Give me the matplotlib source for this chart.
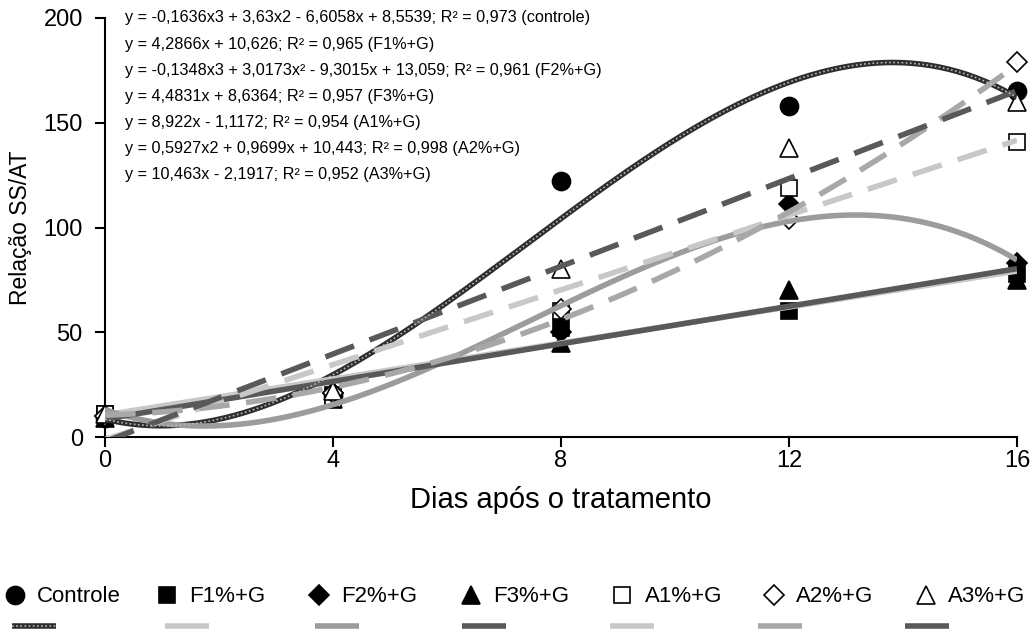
# Relação SS/AT ao longo dos dias após o tratamento

import numpy as np
import matplotlib
matplotlib.use('Agg')
import matplotlib.pyplot as plt
from matplotlib.lines import Line2D

plt.rcParams['font.family'] = ['Liberation Sans', 'DejaVu Sans']

# Data
days = [0, 4, 8, 12, 16]
controle = [9, 20, 122, 158, 165]
f1 = [11, 20, 52, 60, 78]
f2 = [10, 21, 50, 111, 83]
f3 = [9, 18, 45, 70, 75]
a1 = [11, 18, 60, 119, 141]
a2 = [10, 21, 61, 104, 179]
a3 = [11, 22, 80, 138, 160]

# Trendline coefficients as printed on the chart (highest power first)
coef_controle = [-0.1636, 3.63, -6.6058, 8.5539]
coef_f1 = [4.2866, 10.626]
coef_f2 = [-0.1348, 3.0173, -9.3015, 13.059]
coef_f3 = [4.4831, 8.6364]
coef_a1 = [8.922, -1.1172]
coef_a2 = [0.5927, 0.9699, 10.443]
coef_a3 = [10.463, -2.1917]

labels = ['Controle', 'F1%+G', 'F2%+G', 'F3%+G', 'A1%+G', 'A2%+G', 'A3%+G']
equations = [
    'y = -0,1636x3 + 3,63x2 - 6,6058x + 8,5539; R² = 0,973 (controle)',
    'y = 4,2866x + 10,626; R² = 0,965 (F1%+G)',
    'y = -0,1348x3 + 3,0173x² - 9,3015x + 13,059; R² = 0,961 (F2%+G)',
    'y = 4,4831x + 8,6364; R² = 0,957 (F3%+G)',
    'y = 8,922x - 1,1172; R² = 0,954 (A1%+G)',
    'y = 0,5927x2 + 0,9699x + 10,443; R² = 0,998 (A2%+G)',
    'y = 10,463x - 2,1917; R² = 0,952 (A3%+G)',
]

series = [controle, f1, f2, f3, a1, a2, a3]
coefs = [coef_controle, coef_f1, coef_f2, coef_f3, coef_a1, coef_a2, coef_a3]
markers = ['o', 's', 'D', '^', 's', 'D', '^']
msizes = [13, 12, 10, 13, 12, 10, 13]
faces = ['black', 'black', 'black', 'black', 'white', 'white', 'white']

light, mid, dark = '#c8c8c8', '#9c9c9c', '#595959'
line_colors = ['#2e2e2e', light, mid, dark, light, '#a8a8a8', dark]
dash = (0, (5.5, 3))
line_styles = ['-', '-', '-', '-', dash, dash, dash]
LW = 4.0

fig = plt.figure(figsize=(10.33, 6.4), dpi=100)
ax = fig.add_axes([0.1017, 0.317, 0.8828, 0.655])

marker_handles = []
for y, m, ms, fc in zip(series, markers, msizes, faces):
    h, = ax.plot(days, y, linestyle='none', marker=m, markersize=ms,
                 markerfacecolor=fc, markeredgecolor='black',
                 markeredgewidth=1.2, clip_on=False, zorder=3)
    marker_handles.append(h)

xs = np.linspace(0, 16, 200)
for c, col, ls in zip(coefs, line_colors, line_styles):
    ax.plot(xs, np.polyval(c, xs), color=col, lw=LW, linestyle=ls,
            solid_capstyle='butt', dash_capstyle='butt', zorder=4)

# speckled texture on the controle trendline
ax.plot(xs, np.polyval(coef_controle, xs), color='#b8b8b8', lw=1.2,
        linestyle=(0, (1, 1.5)), zorder=5)

ax.set_xlim(0, 16)
ax.set_ylim(0, 200)
ax.set_xticks(days)
ax.set_yticks([0, 50, 100, 150, 200])
ax.spines['top'].set_visible(False)
ax.spines['right'].set_visible(False)
for s in ['left', 'bottom']:
    ax.spines[s].set_linewidth(1.5)
ax.tick_params(direction='out', length=7, width=1.5, labelsize=17)
ax.tick_params(axis='x', pad=2)
ax.tick_params(axis='y', pad=9)
ax.set_xlabel('Dias após o tratamento', fontsize=21, labelpad=10)
ax.set_ylabel('Relação SS/AT', fontsize=16.5, labelpad=8)

for i, eq in enumerate(equations):
    ax.text(0.022, 1.0 - 0.0623 * i, eq, transform=ax.transAxes,
            fontsize=11.7, va='center', ha='left')

# legend: row of markers, then row of trendline keys
mark_x = [4 + 151.8 * i for i in range(7)]
for h, lab, x in zip(marker_handles, labels, mark_x):
    fig.legend([h], [lab], loc='center left', bbox_to_anchor=(x / 1033, 1 - 597 / 640),
               frameon=False, fontsize=16, handlelength=1.0, handletextpad=0.5,
               borderpad=0, borderaxespad=0)

key_x = [12, 165, 315, 462, 610, 758, 905]
for i, x in enumerate(key_x):
    key = Line2D([], [], color=line_colors[i], lw=LW, solid_capstyle='butt')
    if i == 0:
        key = (key, Line2D([], [], color='#b8b8b8', lw=1.2, linestyle=(0, (1, 1.5))))
    fig.legend([key], [''], loc='center left', bbox_to_anchor=(x / 1033, 1 - 628 / 640),
               frameon=False, fontsize=16, handlelength=2.0, handletextpad=0,
               borderpad=0, borderaxespad=0)

fig.savefig('out.png', dpi=100)
